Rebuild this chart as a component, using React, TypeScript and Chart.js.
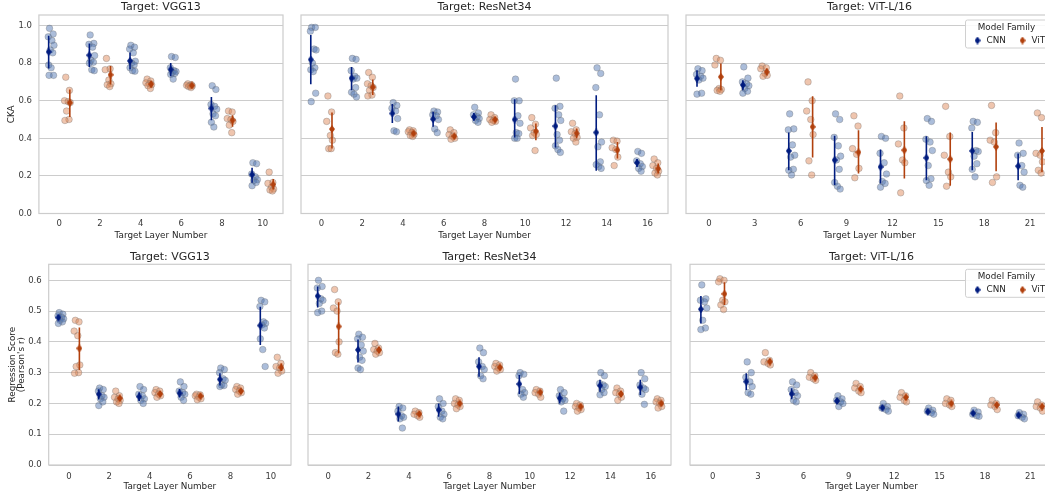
import React, { useEffect, useRef } from 'react';
import { Chart, registerables } from 'chart.js';

Chart.register(...registerables);

// ---------------- DATA ----------------
const VGG_LAYERS = [0, 2, 4, 6, 8, 10];
const RESNET_LAYERS = [0, 2, 4, 6, 8, 10, 12, 14, 16];
const VIT_LAYERS = [0, 3, 6, 9, 12, 15, 18, 21];

const CKA_TICKS = [0, 0.2, 0.4, 0.6, 0.8, 1.0];
const REG_TICKS = [0, 0.1, 0.2, 0.3, 0.4, 0.5, 0.6];

const HUES = ['CNN', 'ViT'];

// CKA – target VGG13
const CKA_VGG_CNN_POINTS = [
  [0.985, 0.955, 0.94, 0.92, 0.895, 0.87, 0.855, 0.79, 0.775, 0.735, 0.735],
  [0.95, 0.905, 0.9, 0.885, 0.84, 0.815, 0.805, 0.8, 0.765, 0.76],
  [0.895, 0.885, 0.875, 0.855, 0.81, 0.8, 0.79, 0.775, 0.76, 0.757],
  [0.835, 0.83, 0.775, 0.76, 0.755, 0.75, 0.745, 0.74, 0.715],
  [0.68, 0.66, 0.58, 0.57, 0.555, 0.53, 0.52, 0.485, 0.46],
  [0.27, 0.265, 0.21, 0.195, 0.18, 0.175, 0.165, 0.148],
];
const CKA_VGG_CNN_MEAN = [0.86, 0.842, 0.812, 0.766, 0.559, 0.207];
const CKA_VGG_CNN_CI = [[0.771, 0.945], [0.78, 0.904], [0.768, 0.856], [0.73, 0.801], [0.496, 0.62], [0.163, 0.243]];
const CKA_VGG_VIT_POINTS = [
  [0.725, 0.655, 0.6, 0.595, 0.59, 0.545, 0.5, 0.495],
  [0.825, 0.77, 0.765, 0.71, 0.69, 0.685, 0.675],
  [0.715, 0.705, 0.695, 0.69, 0.685, 0.68, 0.665],
  [0.69, 0.685, 0.682, 0.68, 0.678, 0.675, 0.67],
  [0.545, 0.54, 0.505, 0.5, 0.49, 0.47, 0.43],
  [0.22, 0.165, 0.16, 0.14, 0.13, 0.125, 0.12],
];
const CKA_VGG_VIT_MEAN = [0.589, 0.738, 0.688, 0.681, 0.496, 0.154];
const CKA_VGG_VIT_CI = [[0.514, 0.66], [0.686, 0.785], [0.67, 0.704], [0.672, 0.69], [0.461, 0.523], [0.128, 0.183]];

// CKA – target ResNet34
const CKA_RES_CNN_POINTS = [
  [0.99, 0.99, 0.97, 0.875, 0.87, 0.8, 0.775, 0.765, 0.755, 0.64, 0.595],
  [0.825, 0.82, 0.76, 0.73, 0.72, 0.715, 0.67, 0.645, 0.635, 0.62],
  [0.59, 0.575, 0.56, 0.545, 0.505, 0.44, 0.435],
  [0.545, 0.54, 0.525, 0.52, 0.5, 0.45, 0.43],
  [0.565, 0.535, 0.525, 0.515, 0.505, 0.495, 0.485],
  [0.715, 0.6, 0.6, 0.52, 0.48, 0.43, 0.425, 0.4, 0.4],
  [0.72, 0.57, 0.56, 0.525, 0.495, 0.42, 0.39, 0.36, 0.34, 0.325],
  [0.775, 0.745, 0.67, 0.525, 0.38, 0.355, 0.275, 0.26, 0.25, 0.24],
  [0.33, 0.32, 0.28, 0.265, 0.25, 0.24, 0.225],
];
const CKA_RES_CNN_MEAN = [0.819, 0.72, 0.532, 0.502, 0.514, 0.5, 0.465, 0.431, 0.27];
const CKA_RES_CNN_CI = [[0.688, 0.949], [0.656, 0.78], [0.482, 0.582], [0.461, 0.541], [0.493, 0.535], [0.404, 0.608], [0.351, 0.576], [0.227, 0.629], [0.248, 0.29]];
const CKA_RES_VIT_POINTS = [
  [0.625, 0.54, 0.49, 0.415, 0.39, 0.345, 0.345],
  [0.75, 0.725, 0.69, 0.68, 0.67, 0.655, 0.63, 0.625],
  [0.445, 0.44, 0.435, 0.43, 0.42, 0.415, 0.41],
  [0.445, 0.43, 0.42, 0.41, 0.4, 0.395],
  [0.525, 0.51, 0.5, 0.495, 0.49, 0.485],
  [0.51, 0.475, 0.455, 0.43, 0.42, 0.415, 0.335],
  [0.48, 0.445, 0.435, 0.425, 0.405, 0.4, 0.38],
  [0.39, 0.385, 0.35, 0.34, 0.3, 0.255],
  [0.29, 0.27, 0.255, 0.24, 0.225, 0.215, 0.205],
];
const CKA_RES_VIT_MEAN = [0.449, 0.672, 0.426, 0.411, 0.5, 0.438, 0.426, 0.337, 0.239];
const CKA_RES_VIT_CI = [[0.346, 0.537], [0.63, 0.713], [0.415, 0.438], [0.4, 0.422], [0.488, 0.512], [0.39, 0.479], [0.4, 0.452], [0.293, 0.381], [0.213, 0.266]];

// CKA – target ViT-L/16
const CKA_VIT_CNN_POINTS = [
  [0.77, 0.76, 0.74, 0.73, 0.72, 0.71, 0.64, 0.635],
  [0.78, 0.72, 0.7, 0.69, 0.68, 0.665, 0.65, 0.64],
  [0.53, 0.45, 0.445, 0.365, 0.31, 0.3, 0.235, 0.23, 0.205],
  [0.53, 0.5, 0.405, 0.36, 0.305, 0.285, 0.235, 0.165, 0.145, 0.13],
  [0.41, 0.4, 0.32, 0.27, 0.21, 0.17, 0.16, 0.14],
  [0.505, 0.49, 0.395, 0.38, 0.335, 0.255, 0.185, 0.175, 0.15],
  [0.49, 0.485, 0.455, 0.335, 0.33, 0.305, 0.265, 0.235, 0.195],
  [0.375, 0.32, 0.31, 0.255, 0.22, 0.15, 0.14],
];
const CKA_VIT_CNN_MEAN = [0.718, 0.683, 0.333, 0.284, 0.248, 0.296, 0.333, 0.252];
const CKA_VIT_CNN_CI = [[0.674, 0.762], [0.656, 0.709], [0.23, 0.431], [0.151, 0.413], [0.16, 0.34], [0.177, 0.411], [0.23, 0.434], [0.177, 0.319]];
const CKA_VIT_VIT_POINTS = [
  [0.825, 0.815, 0.79, 0.665, 0.66, 0.655, 0.65],
  [0.785, 0.775, 0.77, 0.745, 0.735, 0.73],
  [0.7, 0.6, 0.545, 0.5, 0.42, 0.28, 0.205],
  [0.52, 0.465, 0.345, 0.315, 0.24, 0.19],
  [0.625, 0.455, 0.37, 0.285, 0.27, 0.11],
  [0.57, 0.41, 0.31, 0.22, 0.195, 0.145],
  [0.575, 0.43, 0.39, 0.38, 0.195, 0.165],
  [0.535, 0.51, 0.32, 0.31, 0.275, 0.23, 0.215],
];
const CKA_VIT_VIT_MEAN = [0.727, 0.754, 0.461, 0.326, 0.337, 0.289, 0.355, 0.333];
const CKA_VIT_VIT_CI = [[0.656, 0.798], [0.736, 0.771], [0.298, 0.624], [0.213, 0.443], [0.186, 0.491], [0.147, 0.431], [0.225, 0.484], [0.22, 0.46]];

// Regression – target VGG13
const REG_VGG_CNN_POINTS = [
  [0.495, 0.49, 0.485, 0.48, 0.475, 0.47, 0.465, 0.46],
  [0.25, 0.245, 0.24, 0.225, 0.22, 0.215, 0.205, 0.193],
  [0.255, 0.245, 0.23, 0.225, 0.215, 0.21, 0.2],
  [0.27, 0.255, 0.24, 0.235, 0.23, 0.22, 0.21],
  [0.315, 0.31, 0.3, 0.28, 0.275, 0.26, 0.258, 0.255],
  [0.535, 0.53, 0.515, 0.465, 0.46, 0.455, 0.445, 0.41, 0.375, 0.32],
];
const REG_VGG_CNN_MEAN = [0.479, 0.23, 0.222, 0.233, 0.278, 0.453];
const REG_VGG_CNN_CI = [[0.47, 0.487], [0.213, 0.246], [0.208, 0.236], [0.219, 0.247], [0.258, 0.298], [0.39, 0.514]];
const REG_VGG_VIT_POINTS = [
  [0.47, 0.465, 0.435, 0.42, 0.325, 0.32, 0.3, 0.298],
  [0.24, 0.225, 0.22, 0.215, 0.21, 0.205, 0.2],
  [0.245, 0.24, 0.235, 0.23, 0.225, 0.22],
  [0.23, 0.228, 0.225, 0.22, 0.215, 0.212],
  [0.255, 0.25, 0.245, 0.24, 0.235, 0.23],
  [0.35, 0.33, 0.32, 0.315, 0.305, 0.298],
];
const REG_VGG_VIT_MEAN = [0.379, 0.217, 0.231, 0.224, 0.24, 0.317];
const REG_VGG_VIT_CI = [[0.309, 0.447], [0.209, 0.225], [0.223, 0.24], [0.218, 0.23], [0.233, 0.247], [0.305, 0.33]];

// Regression – target ResNet34
const REG_RES_CNN_POINTS = [
  [0.6, 0.58, 0.575, 0.54, 0.535, 0.525, 0.5, 0.495],
  [0.425, 0.415, 0.41, 0.39, 0.37, 0.35, 0.34, 0.315, 0.31],
  [0.19, 0.185, 0.175, 0.16, 0.155, 0.15, 0.12],
  [0.215, 0.2, 0.19, 0.175, 0.165, 0.155, 0.15],
  [0.38, 0.365, 0.335, 0.32, 0.31, 0.29, 0.28],
  [0.3, 0.295, 0.29, 0.245, 0.235, 0.23, 0.22],
  [0.245, 0.235, 0.225, 0.215, 0.21, 0.205, 0.175],
  [0.3, 0.29, 0.265, 0.26, 0.255, 0.245, 0.235, 0.228],
  [0.3, 0.28, 0.26, 0.25, 0.245, 0.23, 0.197],
];
const REG_RES_CNN_MEAN = [0.549, 0.374, 0.165, 0.179, 0.32, 0.263, 0.217, 0.258, 0.252];
const REG_RES_CNN_CI = [[0.512, 0.58], [0.333, 0.408], [0.141, 0.19], [0.157, 0.2], [0.287, 0.35], [0.231, 0.292], [0.2, 0.235], [0.238, 0.277], [0.227, 0.277]];
const REG_RES_VIT_POINTS = [
  [0.57, 0.53, 0.51, 0.5, 0.4, 0.365, 0.36],
  [0.395, 0.38, 0.375, 0.37, 0.365, 0.36],
  [0.175, 0.17, 0.165, 0.16, 0.155],
  [0.215, 0.21, 0.2, 0.195, 0.19, 0.183],
  [0.33, 0.325, 0.32, 0.315, 0.31, 0.305],
  [0.245, 0.24, 0.235, 0.23, 0.22],
  [0.2, 0.195, 0.19, 0.185, 0.18, 0.175],
  [0.25, 0.24, 0.235, 0.23, 0.22, 0.21],
  [0.215, 0.21, 0.205, 0.2, 0.19, 0.185],
];
const REG_RES_VIT_MEAN = [0.45, 0.374, 0.166, 0.2, 0.317, 0.236, 0.19, 0.231, 0.2];
const REG_RES_VIT_CI = [[0.363, 0.529], [0.365, 0.383], [0.16, 0.172], [0.192, 0.208], [0.31, 0.324], [0.229, 0.243], [0.184, 0.197], [0.222, 0.24], [0.193, 0.207]];

// Regression – target ViT-L/16
const REG_VIT_CNN_POINTS = [
  [0.585, 0.54, 0.535, 0.53, 0.51, 0.47, 0.445, 0.44],
  [0.335, 0.3, 0.285, 0.27, 0.255, 0.235, 0.23],
  [0.27, 0.26, 0.245, 0.235, 0.225, 0.21, 0.205],
  [0.225, 0.215, 0.21, 0.205, 0.2, 0.19],
  [0.2, 0.19, 0.185, 0.18, 0.175],
  [0.185, 0.178, 0.175, 0.17, 0.165],
  [0.178, 0.172, 0.165, 0.16, 0.158],
  [0.17, 0.165, 0.16, 0.155, 0.15],
];
const REG_VIT_CNN_MEAN = [0.506, 0.271, 0.231, 0.208, 0.186, 0.173, 0.168, 0.162];
const REG_VIT_CNN_CI = [[0.46, 0.549], [0.244, 0.298], [0.214, 0.249], [0.2, 0.217], [0.18, 0.192], [0.167, 0.179], [0.162, 0.174], [0.157, 0.167]];
const REG_VIT_VIT_POINTS = [
  [0.605, 0.6, 0.595, 0.535, 0.53, 0.52, 0.505],
  [0.365, 0.34, 0.335, 0.33, 0.325],
  [0.3, 0.29, 0.285, 0.28, 0.275],
  [0.265, 0.255, 0.25, 0.24, 0.235],
  [0.235, 0.225, 0.22, 0.21, 0.205],
  [0.215, 0.21, 0.2, 0.195, 0.19],
  [0.21, 0.2, 0.195, 0.19, 0.18],
  [0.205, 0.195, 0.19, 0.185, 0.175],
];
const REG_VIT_VIT_MEAN = [0.556, 0.336, 0.284, 0.247, 0.22, 0.2, 0.195, 0.19];
const REG_VIT_VIT_CI = [[0.52, 0.594], [0.327, 0.345], [0.277, 0.291], [0.24, 0.254], [0.213, 0.227], [0.194, 0.206], [0.188, 0.202], [0.183, 0.197]];

// ---------------- STYLE / LAYOUT ----------------
const FONT = 'DejaVu Sans';
const TEXT = '#262626';
const TICK_TEXT = '#3a3a3a';
const GRID = '#cccccc';
const DARK = ['#001c7f', '#b1400d'];
const STRIP_FILL = ['rgba(76,114,176,0.47)', 'rgba(221,132,82,0.47)'];
const STRIP_EDGE = 'rgba(110,110,110,0.42)';
const STRIP_OFFSET = [-0.2, 0.2];
const MEAN_OFFSET = [-0.26, 0.26];
const JITTER = [-0.04, 0.05, -0.07, 0.02, 0.07, -0.02, 0.04, -0.06, 0.0, 0.06, -0.05];

type Row = {
  canvasTop: number; plotT: number; plotB: number; height: number;
  titlePad: { top: number; bottom: number }; tickPad: number; xTitlePad: number;
  yMax: number; yTicks: number[];
};
const TOP_ROW: Row = {
  canvasTop: 0, plotT: 15, plotB: 213.5, height: 242,
  titlePad: { top: 0.7, bottom: 1.1 }, tickPad: 5, xTitlePad: 1.3,
  yMax: 1.056, yTicks: CKA_TICKS,
};
const BOTTOM_ROW: Row = {
  canvasTop: 248, plotT: 264.3, plotB: 465, height: 244,
  titlePad: { top: 2.1, bottom: 1.0 }, tickPad: 6.5, xTitlePad: 0,
  yMax: 0.652, yTicks: REG_TICKS,
};

type Spec = {
  title: string; layers: number[]; row: Row;
  canvasLeft: number; width: number; plotL: number; plotR: number;
  yTitle?: string | string[]; yTitlePad?: number; yTitleLH?: string;
  legend?: boolean;
  points: number[][][]; means: number[][]; cis: number[][][];
};

const SPECS: Spec[] = [
  { title: 'Target: VGG13', layers: VGG_LAYERS, row: TOP_ROW, canvasLeft: 0, width: 288, plotL: 38.9, plotR: 283.7,
    yTitle: 'CKA', yTitlePad: 6.4,
    points: [CKA_VGG_CNN_POINTS, CKA_VGG_VIT_POINTS], means: [CKA_VGG_CNN_MEAN, CKA_VGG_VIT_MEAN], cis: [CKA_VGG_CNN_CI, CKA_VGG_VIT_CI] },
  { title: 'Target: ResNet34', layers: RESNET_LAYERS, row: TOP_ROW, canvasLeft: 296, width: 377, plotL: 300.5, plotR: 669,
    points: [CKA_RES_CNN_POINTS, CKA_RES_VIT_POINTS], means: [CKA_RES_CNN_MEAN, CKA_RES_VIT_MEAN], cis: [CKA_RES_CNN_CI, CKA_RES_VIT_CI] },
  { title: 'Target: ViT-L/16', layers: VIT_LAYERS, row: TOP_ROW, canvasLeft: 681, width: 377, plotL: 685.3, plotR: 1053.6, legend: true,
    points: [CKA_VIT_CNN_POINTS, CKA_VIT_VIT_POINTS], means: [CKA_VIT_CNN_MEAN, CKA_VIT_VIT_MEAN], cis: [CKA_VIT_CNN_CI, CKA_VIT_VIT_CI] },
  { title: 'Target: VGG13', layers: VGG_LAYERS, row: BOTTOM_ROW, canvasLeft: 0, width: 296, plotL: 48.7, plotR: 291.9,
    yTitle: ['Regression Score', "(Pearson's r)"], yTitlePad: 7.6, yTitleLH: '9.4px',
    points: [REG_VGG_CNN_POINTS, REG_VGG_VIT_POINTS], means: [REG_VGG_CNN_MEAN, REG_VGG_VIT_MEAN], cis: [REG_VGG_CNN_CI, REG_VGG_VIT_CI] },
  { title: 'Target: ResNet34', layers: RESNET_LAYERS, row: BOTTOM_ROW, canvasLeft: 303, width: 373, plotL: 307.3, plotR: 671.4,
    points: [REG_RES_CNN_POINTS, REG_RES_VIT_POINTS], means: [REG_RES_CNN_MEAN, REG_RES_VIT_MEAN], cis: [REG_RES_CNN_CI, REG_RES_VIT_CI] },
  { title: 'Target: ViT-L/16', layers: VIT_LAYERS, row: BOTTOM_ROW, canvasLeft: 685, width: 373, plotL: 689, plotR: 1053.6, legend: true,
    points: [REG_VIT_CNN_POINTS, REG_VIT_VIT_POINTS], means: [REG_VIT_CNN_MEAN, REG_VIT_VIT_MEAN], cis: [REG_VIT_CNN_CI, REG_VIT_VIT_CI] },
];

function makeDiamond(color: string): HTMLCanvasElement {
  const c = document.createElement('canvas');
  c.width = 6; c.height = 8;
  const ctx = c.getContext('2d')!;
  ctx.fillStyle = color;
  ctx.beginPath();
  ctx.moveTo(3, 0); ctx.lineTo(6, 4); ctx.lineTo(3, 8); ctx.lineTo(0, 4); ctx.closePath();
  ctx.fill();
  return c;
}

const framePlugin = {
  id: 'frame',
  beforeDatasetsDraw(chart: any) {
    const { ctx, chartArea: a } = chart;
    ctx.save();
    ctx.strokeStyle = GRID;
    ctx.lineWidth = 1.2;
    ctx.strokeRect(a.left, a.top, a.right - a.left, a.bottom - a.top);
    ctx.restore();
  },
};

function makeLegendPlugin(diamonds: HTMLCanvasElement[]) {
  return {
    id: 'familyLegend',
    afterDatasetsDraw(chart: any, _args: any, opts: any) {
      if (!opts || !opts.show) return;
      const { ctx, chartArea: a } = chart;
      const w = 82, h = 28;
      const x = a.right - 5.5 - w, y = a.top + 5;
      ctx.save();
      ctx.fillStyle = 'rgba(255,255,255,0.85)';
      ctx.strokeStyle = '#d0d0d0';
      ctx.lineWidth = 1;
      ctx.beginPath();
      (ctx as any).roundRect(x, y, w, h, 2);
      ctx.fill();
      ctx.stroke();
      ctx.fillStyle = TEXT;
      ctx.font = `8.8px "${FONT}"`;
      ctx.textBaseline = 'middle';
      ctx.textAlign = 'center';
      ctx.fillText('Model Family', x + w / 2, y + 7.3);
      ctx.textAlign = 'left';
      const rowY = y + 20.5;
      const mx = [x + 12, x + 57];
      HUES.forEach((name, k) => {
        const d = diamonds[k];
        ctx.drawImage(d, mx[k] - d.width / 2, rowY - d.height / 2);
        ctx.fillText(name, mx[k] + 9, rowY);
      });
      ctx.restore();
    },
  };
}

function buildConfig(spec: Spec) {
  const row = spec.row;
  const diamonds = DARK.map(makeDiamond);
  const datasets: any[] = [];
  // strip points
  [0, 1].forEach((h) => {
    datasets.push({
      label: HUES[h] + ' models',
      data: spec.points[h].flatMap((pts, i) =>
        pts.map((v, j) => ({ x: i + STRIP_OFFSET[h] + JITTER[j % JITTER.length], y: v }))
      ),
      backgroundColor: STRIP_FILL[h],
      borderColor: STRIP_EDGE,
      borderWidth: 0.8,
      pointRadius: 3.3,
      order: 2,
    });
  });
  // CI bars
  [0, 1].forEach((h) => {
    spec.cis[h].forEach((ci, i) => {
      const x = i + MEAN_OFFSET[h];
      datasets.push({
        label: HUES[h] + ' ci',
        data: [{ x, y: ci[0] }, { x, y: ci[1] }],
        showLine: true,
        borderColor: DARK[h],
        borderWidth: 1.6,
        pointRadius: 0,
        order: 1,
      });
    });
  });
  // means
  [0, 1].forEach((h) => {
    datasets.push({
      label: HUES[h],
      data: spec.means[h].map((m, i) => ({ x: i + MEAN_OFFSET[h], y: m })),
      pointStyle: diamonds[h],
      backgroundColor: DARK[h],
      borderColor: DARK[h],
      order: 0,
    });
  });

  const localL = spec.plotL - spec.canvasLeft;
  const localR = spec.plotR - spec.canvasLeft;
  const padR = spec.width - localR;
  const xH = row.height - (row.plotB - row.canvasTop);
  const n = spec.layers.length;
  const showY = !!spec.yTitle;

  return {
    type: 'scatter',
    data: { datasets },
    plugins: [framePlugin, makeLegendPlugin(diamonds)],
    options: {
      animation: false,
      responsive: false,
      events: [],
      layout: { padding: { left: 0, top: 0, right: padR, bottom: 0 } },
      plugins: {
        legend: { display: false },
        tooltip: { enabled: false },
        title: {
          display: true,
          text: spec.title,
          fullSize: false,
          color: TEXT,
          font: { family: FONT, size: 11, weight: 'normal', lineHeight: 1.2 },
          padding: row.titlePad,
        },
        familyLegend: { show: !!spec.legend },
      },
      scales: {
        x: {
          type: 'linear',
          min: -0.5,
          max: n - 0.5,
          afterBuildTicks: (s: any) => { s.ticks = spec.layers.map((_, i) => ({ value: i })); },
          afterFit: (s: any) => { s.height = xH; },
          ticks: {
            autoSkip: false,
            maxRotation: 0,
            padding: row.tickPad,
            color: TICK_TEXT,
            font: { family: FONT, size: 8.5 },
            callback: (_v: any, idx: number) => String(spec.layers[idx]),
          },
          grid: { display: false, drawTicks: false },
          border: { display: false },
          title: {
            display: true,
            text: 'Target Layer Number',
            color: TEXT,
            font: { family: FONT, size: 8.8 },
            padding: { top: 0, bottom: row.xTitlePad },
          },
        },
        y: {
          type: 'linear',
          min: 0,
          max: row.yMax,
          afterBuildTicks: (s: any) => { s.ticks = row.yTicks.map((v) => ({ value: v })); },
          afterFit: (s: any) => { s.width = localL; },
          ticks: {
            display: showY,
            padding: 7,
            color: TICK_TEXT,
            font: { family: FONT, size: 8.5 },
            callback: (v: any) => Number(v).toFixed(1),
          },
          grid: { color: GRID, lineWidth: 1, drawTicks: false },
          border: { display: false },
          title: {
            display: showY,
            text: spec.yTitle || '',
            color: TEXT,
            font: { family: FONT, size: 8.8, lineHeight: spec.yTitleLH || 1.2 },
            padding: { top: spec.yTitlePad || 0, bottom: 0 },
          },
        },
      },
    },
  };
}

function Panel({ spec }: { spec: Spec }) {
  const ref = useRef<HTMLCanvasElement>(null);
  useEffect(() => {
    const chart = new Chart(ref.current as HTMLCanvasElement, buildConfig(spec) as any);
    return () => chart.destroy();
  }, [spec]);
  return (
    <canvas
      ref={ref}
      width={spec.width}
      height={spec.row.height}
      style={{
        position: 'absolute',
        left: spec.canvasLeft + 'px',
        top: spec.row.canvasTop + 'px',
        width: spec.width + 'px',
        height: spec.row.height + 'px',
      }}
    />
  );
}

export default function App() {
  return (
    <div
      style={{
        position: 'fixed',
        left: 0,
        top: 0,
        width: '1045px',
        height: '492px',
        overflow: 'hidden',
        background: '#ffffff',
      }}
    >
      {SPECS.map((s, i) => (
        <Panel key={i} spec={s} />
      ))}
    </div>
  );
}
